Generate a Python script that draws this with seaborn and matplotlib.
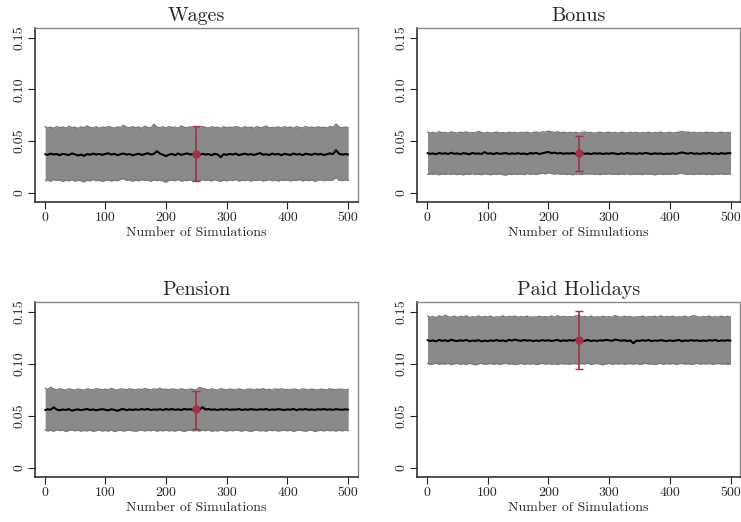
import matplotlib
matplotlib.use("Agg")
import matplotlib.pyplot as plt
import numpy as np
import pandas as pd
import seaborn as sns

# simulation index (sampled every 5 runs)
sims = [1] + list(range(5, 501, 5))

titles = ["Wages", "Bonus", "Pension", "Paid Holidays"]

# all series below are in thousandths (0.001 units)
wages_mean = [37.2, 36.5, 37.8, 36.9, 37.4, 36.2, 37.6, 37.0, 36.4, 37.9,
              37.1, 36.0, 36.8, 35.6, 37.3, 36.7, 37.8, 36.9, 37.5, 36.6,
              37.4, 38.1, 36.9, 37.6, 36.3, 37.2, 37.9, 36.8, 37.4, 36.1,
              37.0, 37.7, 36.5, 37.3, 38.2, 36.9, 37.5, 40.2, 37.8, 36.7,
              35.4, 36.8, 37.5, 36.2, 37.9, 36.6, 37.3, 38.0, 36.9, 37.4,
              37.0, 36.4, 37.7, 36.8, 37.4, 36.1, 37.6, 36.9, 34.3, 37.2,
              36.6, 37.5, 36.9, 37.8, 36.3, 37.1, 37.7, 36.8, 37.3, 36.5,
              37.4, 38.3, 36.7, 37.2, 36.4, 37.8, 36.9, 37.5, 36.2, 37.6,
              37.0, 36.5, 37.9, 36.8, 37.4, 36.3, 37.7, 37.1, 36.6, 37.8,
              36.9, 37.5, 36.4, 37.2, 38.0, 37.3, 41.1, 37.6, 36.8, 37.3,
              36.9]
wages_hi = [63.8, 62.6, 63.4, 62.2, 63.9, 62.8, 63.5, 62.4, 64.1, 62.9,
            63.3, 62.1, 63.7, 62.7, 64.6, 63.0, 62.5, 63.8, 62.3, 63.4,
            62.8, 64.0, 63.1, 62.4, 63.6, 62.9, 65.2, 63.3, 62.6, 63.9,
            62.7, 63.5, 62.2, 64.3, 63.0, 62.6, 66.1, 63.4, 62.8, 63.7,
            62.5, 63.9, 62.9, 63.4, 62.3, 64.5, 63.1, 62.7, 63.8, 62.4,
            63.6, 62.8, 64.2, 63.0, 62.5, 63.7, 62.9, 63.3, 62.1, 63.8,
            62.6, 63.4, 62.9, 64.0, 63.2, 62.4, 63.7, 62.8, 63.5, 62.3,
            63.9, 62.7, 63.3, 64.4, 62.6, 63.1, 62.8, 63.6, 62.4, 63.9,
            62.9, 63.5, 62.3, 63.8, 63.0, 62.5, 64.1, 62.8, 63.4, 62.6,
            63.7, 62.9, 63.3, 62.5, 64.0, 63.2, 66.4, 63.5, 62.7, 63.4,
            63.0]
wages_lo = [11.6, 12.4, 11.1, 12.7, 11.8, 12.3, 10.9, 12.1, 11.5, 12.6,
            11.2, 12.0, 11.7, 10.4, 12.2, 11.4, 12.8, 11.6, 12.1, 11.0,
            11.8, 12.5, 11.3, 12.0, 11.6, 12.9, 13.8, 11.9, 12.4, 11.1,
            12.2, 11.5, 12.7, 11.8, 12.3, 11.0, 12.6, 11.7, 12.1, 11.4,
            10.3, 11.9, 12.4, 11.6, 12.8, 11.2, 12.0, 11.7, 12.5, 11.3,
            12.1, 11.6, 12.6, 11.9, 12.3, 11.4, 12.7, 11.8, 10.9, 12.2,
            11.5, 12.4, 11.8, 12.9, 11.3, 12.1, 11.7, 12.6, 11.2, 12.3,
            11.9, 12.5, 11.4, 12.0, 12.7, 11.6, 12.2, 11.3, 12.5, 11.8,
            12.3, 11.5, 12.1, 11.9, 12.8, 11.4, 12.2, 11.7, 12.4, 11.1,
            12.0, 12.6, 11.6, 12.3, 11.8, 12.5, 14.6, 12.1, 11.7, 12.4,
            11.9]

bonus_mean = [38.3, 37.5, 38.0, 37.2, 38.4, 37.7, 38.1, 37.4, 38.6, 37.6,
              38.0, 37.3, 38.2, 37.8, 37.1, 38.5, 37.6, 38.0, 37.4, 39.2,
              37.7, 38.1, 37.3, 38.4, 37.5, 37.9, 38.3, 37.4, 38.0, 37.6,
              38.2, 37.5, 37.9, 37.1, 38.3, 37.8, 38.5, 37.4, 38.1, 38.8,
              39.4, 38.2, 38.7, 37.9, 38.4, 37.6, 38.1, 37.8, 38.3, 37.5,
              37.9, 38.4, 37.6, 38.0, 37.3, 38.2, 37.7, 38.1, 37.4, 38.0,
              37.6, 38.3, 37.8, 37.2, 38.1, 37.5, 38.4, 37.7, 38.0, 37.4,
              38.2, 37.6, 38.5, 37.9, 37.3, 38.1, 37.6, 38.0, 37.2, 37.8,
              37.5, 38.1, 37.4, 38.3, 38.9, 38.2, 37.7, 38.5, 37.6, 38.0,
              37.4, 38.2, 37.7, 38.4, 37.5, 38.0, 37.3, 38.3, 37.6, 38.1,
              38.2]
bonus_hi = [58.6, 57.8, 58.3, 57.5, 58.9, 57.9, 58.2, 57.6, 58.7, 58.0,
            57.7, 58.4, 57.9, 58.8, 57.6, 58.2, 57.8, 59.3, 58.1, 57.7,
            58.3, 57.6, 58.0, 58.6, 57.8, 58.2, 57.5, 58.4, 57.9, 58.1,
            57.7, 58.3, 57.9, 58.5, 57.6, 58.1, 58.7, 57.8, 58.9, 58.4,
            59.6, 58.7, 58.2, 58.9, 58.0, 58.5, 57.8, 58.3, 57.9, 58.4,
            57.6, 58.2, 58.8, 57.9, 58.3, 57.5, 58.0, 58.6, 57.7, 58.1,
            58.4, 57.8, 58.2, 57.6, 58.5, 58.0, 57.7, 58.3, 57.9, 58.2,
            57.5, 58.1, 57.8, 58.4, 57.6, 58.2, 57.9, 58.6, 57.7, 58.0,
            58.3, 57.6, 58.1, 58.5, 59.2, 58.4, 58.7, 57.9, 58.3, 57.8,
            58.2, 57.7, 58.5, 57.9, 58.3, 57.6, 58.1, 58.4, 57.8, 58.2,
            57.9]
bonus_lo = [17.6, 18.3, 17.8, 18.5, 17.4, 18.1, 17.7, 18.4, 17.9, 18.2,
            17.5, 18.0, 17.3, 18.2, 17.8, 18.6, 17.6, 18.1, 17.4, 18.3,
            17.9, 17.4, 18.2, 17.7, 18.4, 17.5, 17.1, 18.0, 17.6, 18.3,
            17.8, 18.2, 17.5, 18.6, 17.9, 18.3, 17.7, 18.4, 18.9, 18.2,
            19.3, 18.6, 18.1, 18.7, 17.8, 18.2, 17.6, 18.0, 17.4, 17.9,
            18.2, 17.6, 18.3, 17.9, 18.5, 17.7, 18.1, 17.5, 18.2, 17.8,
            18.4, 17.7, 18.1, 17.6, 18.3, 17.9, 18.5, 17.6, 18.0, 17.8,
            18.2, 17.5, 18.4, 17.8, 18.1, 17.3, 17.9, 18.3, 17.6, 18.0,
            17.7, 18.3, 17.9, 18.6, 18.8, 18.1, 17.8, 18.4, 17.6, 18.2,
            17.9, 18.3, 17.6, 18.1, 17.5, 18.2, 17.8, 18.4, 17.7, 18.0,
            18.1]

pension_mean = [55.4, 56.2, 55.7, 58.1, 55.9, 55.2, 56.0, 55.5, 56.3, 54.8,
                55.6, 56.1, 55.3, 55.9, 56.4, 55.5, 56.0, 55.2, 55.8, 56.3,
                55.7, 55.1, 56.2, 55.6, 54.7, 55.9, 56.4, 55.3, 56.0, 55.5,
                56.1, 55.6, 56.3, 55.8, 56.5, 55.4, 56.0, 55.7, 56.2, 55.5,
                56.3, 55.8, 56.4, 55.6, 56.1, 55.4, 56.5, 55.9, 56.2, 55.7,
                56.0, 55.5, 58.3, 55.9, 56.4, 55.7, 56.1, 55.4, 56.2, 55.8,
                56.3, 55.6, 56.0, 55.8, 56.4, 55.5, 56.1, 55.7, 56.3, 55.9,
                55.6, 56.2, 55.8, 56.4, 55.5, 56.0, 55.7, 56.3, 55.9, 55.4,
                56.1, 55.7, 56.5, 55.3, 56.2, 55.8, 56.4, 55.6, 56.0, 55.5,
                56.2, 55.8, 56.4, 55.7, 56.1, 55.6, 56.3, 55.9, 55.7, 56.1,
                55.9]
pension_hi = [76.4, 74.9, 77.3, 75.6, 74.8, 75.9, 75.2, 74.6, 75.8, 75.1,
              74.7, 75.6, 75.0, 74.5, 75.7, 75.2, 74.8, 76.0, 75.4, 74.9,
              75.5, 74.7, 76.3, 75.1, 74.6, 75.8, 75.3, 74.9, 75.9, 75.2,
              74.8, 75.6, 75.0, 76.1, 75.4, 74.7, 75.8, 75.2, 76.4, 75.0,
              75.5, 74.9, 75.7, 75.3, 74.6, 75.9, 75.1, 74.8, 75.6, 75.2,
              74.9, 77.1, 76.2, 75.4, 74.8, 75.7, 75.1, 74.6, 75.9, 75.3,
              74.8, 75.6, 75.2, 74.7, 75.8, 75.0, 74.5, 75.7, 75.3, 74.9,
              75.6, 75.1, 76.0, 74.8, 75.4, 74.7, 75.8, 75.2, 75.9, 74.9,
              75.3, 74.8, 75.7, 75.1, 74.6, 75.8, 75.2, 74.9, 75.6, 75.0,
              74.7, 75.5, 75.1, 74.8, 75.9, 75.3, 74.9, 75.6, 75.2, 74.8,
              75.4]
pension_lo = [36.3, 35.4, 36.0, 35.1, 36.5, 35.7, 36.2, 34.9, 35.8, 36.4,
              35.5, 36.1, 35.2, 35.9, 35.4, 36.3, 35.0, 35.7, 36.2, 35.3,
              35.9, 35.2, 36.4, 34.8, 35.7, 36.0, 35.3, 35.8, 36.3, 35.5,
              35.1, 35.8, 36.2, 35.4, 36.0, 35.6, 36.4, 35.2, 35.9, 35.5,
              36.1, 35.4, 35.9, 35.2, 36.3, 35.7, 35.0, 35.8, 36.2, 35.5,
              35.9, 35.3, 36.1, 35.6, 36.4, 35.1, 35.8, 35.4, 36.2, 35.7,
              35.3, 36.0, 35.5, 36.3, 35.8, 35.2, 36.1, 35.6, 35.0, 35.9,
              36.2, 35.4, 35.9, 35.1, 36.3, 35.7, 36.0, 35.3, 35.8, 36.1,
              35.5, 36.2, 35.0, 35.8, 36.4, 35.6, 35.2, 35.9, 36.3, 34.8,
              35.7, 36.0, 35.4, 36.2, 35.6, 35.9, 35.3, 36.1, 35.5, 36.0,
              35.7]

holiday_mean = [122.6, 121.8, 122.3, 121.4, 122.9, 121.9, 122.5, 121.6, 123.0, 122.1,
                121.7, 122.4, 121.9, 122.8, 121.5, 122.2, 121.8, 122.6, 121.4, 122.1,
                121.6, 122.3, 121.9, 122.7, 121.8, 122.4, 121.5, 122.9, 122.2, 123.1,
                122.4, 121.9, 122.7, 122.1, 122.5, 121.7, 122.3, 121.8, 122.6, 122.0,
                122.5, 121.8, 122.2, 122.9, 121.6, 122.4, 121.9, 122.6, 122.1, 122.8,
                122.3, 121.4, 122.0, 122.7, 121.7, 122.3, 121.8, 122.5, 122.1, 122.9,
                122.4, 121.9, 123.2, 122.6, 122.0, 122.5, 121.7, 122.3, 119.6, 122.2,
                121.8, 122.5, 122.0, 122.7, 121.6, 122.3, 121.9, 122.6, 122.1, 121.7,
                122.4, 121.8, 122.2, 122.8, 121.5, 122.3, 121.9, 122.6, 122.0, 122.4,
                121.7, 122.3, 121.8, 122.6, 122.1, 122.8, 121.6, 122.4, 122.0, 122.5,
                122.1]
holiday_hi = [145.8, 144.6, 145.3, 144.2, 145.9, 144.8, 146.4, 145.1, 144.5, 145.7,
              144.3, 145.5, 144.9, 146.0, 144.4, 145.2, 144.7, 145.8, 144.6, 145.3,
              144.8, 145.6, 144.2, 145.1, 144.7, 145.9, 144.5, 145.4, 144.9, 145.7,
              144.4, 145.2, 144.8, 145.6, 144.3, 145.0, 144.6, 145.5, 144.9, 145.3,
              144.7, 145.8, 144.5, 146.1, 144.8, 145.4, 144.6, 145.2, 144.9, 145.7,
              146.3, 144.9, 145.4, 144.6, 145.8, 144.4, 145.1, 144.7, 145.5, 144.8,
              145.2, 144.6, 146.2, 145.0, 144.5, 145.6, 144.9, 145.3, 144.4, 145.1,
              144.8, 145.7, 144.5, 145.2, 144.9, 145.5, 144.6, 145.9, 144.7, 145.3,
              144.9, 145.6, 144.4, 145.1, 144.8, 145.7, 144.5, 145.4, 146.2, 145.0,
              144.6, 145.3, 144.9, 145.8, 144.5, 145.2, 144.7, 145.6, 144.8, 145.4,
              144.9]
holiday_lo = [100.3, 99.2, 99.8, 100.5, 99.4, 100.1, 99.6, 100.4, 99.1, 99.9,
              100.2, 99.5, 100.0, 99.3, 100.4, 99.7, 98.8, 99.9, 100.3, 99.4,
              99.8, 100.2, 99.5, 100.1, 99.3, 99.9, 100.4, 99.6, 100.0, 99.2,
              99.7, 100.3, 99.4, 100.0, 99.6, 100.2, 99.1, 99.8, 100.4, 99.5,
              100.1, 99.6, 99.9, 99.3, 100.2, 99.7, 100.0, 99.4, 100.3, 99.8,
              99.5, 100.1, 99.7, 100.4, 99.2, 99.9, 100.2, 99.6, 98.9, 99.8,
              100.2, 99.5, 100.0, 99.7, 100.3, 99.4, 99.9, 100.1, 99.6, 100.2,
              99.3, 99.8, 100.4, 99.6, 100.0, 99.2, 99.9, 100.3, 99.5, 100.1,
              99.7, 100.2, 99.4, 99.9, 100.3, 99.6, 100.0, 99.2, 99.8, 100.4,
              99.5, 100.1, 99.7, 100.3, 99.4, 99.9, 100.2, 99.6, 100.0, 99.3,
              99.8]

# red marker + interval drawn at simulation 250 (real units)
ci_x = 250
ci_mid = [0.037, 0.038, 0.056, 0.123]
ci_lo = [0.011, 0.021, 0.037, 0.095]
ci_hi = [0.064, 0.055, 0.074, 0.151]

yticks = [0, 0.05, 0.10, 0.15]
ytick_labels = ["0", "0.05", "0.10", "0.15"]
xticks = [0, 100, 200, 300, 400, 500]

means = [wages_mean, bonus_mean, pension_mean, holiday_mean]
his = [wages_hi, bonus_hi, pension_hi, holiday_hi]
los = [wages_lo, bonus_lo, pension_lo, holiday_lo]

sns.set_style("white")
plt.rcParams["font.family"] = ["cmr10", "DejaVu Serif"]
plt.rcParams["axes.formatter.use_mathtext"] = True

fig = plt.figure(figsize=(7.41, 5.22), dpi=100)
positions = [[0.047, 0.613, 0.436, 0.333],
             [0.563, 0.613, 0.436, 0.333],
             [0.047, 0.086, 0.436, 0.335],
             [0.563, 0.086, 0.436, 0.335]]

for i in range(4):
    ax = fig.add_axes(positions[i])
    df = pd.DataFrame({"sim": sims,
                       "mean": np.array(means[i]) / 1000,
                       "lo": np.array(los[i]) / 1000,
                       "hi": np.array(his[i]) / 1000})
    ax.fill_between(df["sim"], df["lo"], df["hi"], color="#8a8a8a", lw=0, zorder=1)
    sns.lineplot(data=df, x="sim", y="hi", ax=ax, color="#7a7a7a", lw=1.0, zorder=2)
    sns.lineplot(data=df, x="sim", y="lo", ax=ax, color="#7a7a7a", lw=1.0, zorder=2)
    sns.lineplot(data=df, x="sim", y="mean", ax=ax, color="black", lw=1.5, zorder=3)
    ax.errorbar([ci_x], [ci_mid[i]],
                yerr=[[ci_mid[i] - ci_lo[i]], [ci_hi[i] - ci_mid[i]]],
                fmt="o", color="#a13245", ms=5, capsize=3, elinewidth=1.2,
                capthick=1.0, zorder=4)
    ax.set_xlim(-16, 516)
    ax.set_ylim(-0.009, 0.159)
    ax.set_xticks(xticks)
    ax.set_xticklabels([str(t) for t in xticks], fontsize=10)
    ax.set_yticks(yticks)
    ax.set_yticklabels(ytick_labels, fontsize=10, rotation=90, va="center")
    ax.tick_params(axis="both", direction="out", length=5, width=0.8,
                   color="#222222", pad=2, left=True, bottom=True)
    ax.set_xlabel("Number of Simulations", fontsize=10, labelpad=2)
    ax.set_ylabel("")
    ax.set_title(titles[i], fontsize=14.5, pad=5)
    for side in ["left", "bottom"]:
        ax.spines[side].set_color("#222222")
        ax.spines[side].set_linewidth(1.1)
    for side in ["top", "right"]:
        ax.spines[side].set_color("#888888")
        ax.spines[side].set_linewidth(1.0)

fig.savefig("out.png", dpi=100)
